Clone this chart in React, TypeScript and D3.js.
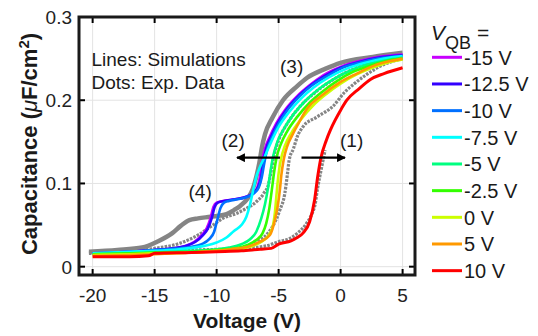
import React from "react";
import * as d3 from "d3";

type P = [number, number];

const X_TICKS = [-20, -15, -10, -5, 0, 5];
const Y_TICKS = [0, 0.1, 0.2, 0.3];
const Y_TICK_LABELS = ["0", "0.1", "0.2", "0.3"];

const SERIES_NAMES = ["-15 V", "-12.5 V", "-10 V", "-7.5 V", "-5 V", "-2.5 V", "0 V", "5 V", "10 V"];
const SERIES_COLORS = ["#c800ff", "#3300ff", "#0070ff", "#00ffff", "#00ff80", "#33ff00", "#ccff00", "#ff9900", "#ff0000"];

const simM15: P[] = [[-20,0.016],[-17,0.018],[-15,0.02],[-13.5,0.022],[-12.5,0.025],[-11.8,0.03],[-11.2,0.038],[-10.8,0.046],[-10.5,0.058],[-10.25,0.072],[-10.0,0.077],[-9.5,0.079],[-8.5,0.081],[-7.6,0.084],[-7.0,0.089],[-6.7,0.096],[-6.5,0.108],[-6.35,0.125],[-6.1,0.142],[-5.75,0.155],[-5.2,0.172],[-4.5,0.188],[-3.5,0.205],[-2.5,0.218],[-1.4,0.23],[0,0.24],[1.5,0.247],[3,0.252],[5,0.255]];
const simM12p5: P[] = [[-20,0.016],[-17,0.018],[-15,0.02],[-13.5,0.022],[-12.5,0.025],[-11.7,0.03],[-11.1,0.038],[-10.7,0.046],[-10.4,0.058],[-10.15,0.072],[-9.9,0.077],[-9.4,0.079],[-8.5,0.081],[-7.6,0.084],[-7.0,0.089],[-6.65,0.096],[-6.4,0.108],[-6.25,0.125],[-6.0,0.142],[-5.65,0.155],[-5.1,0.172],[-4.4,0.188],[-3.4,0.205],[-2.4,0.218],[-1.3,0.229],[0,0.239],[1.5,0.246],[3,0.251],[5,0.254]];
const simM10: P[] = [[-20,0.016],[-17,0.018],[-15,0.02],[-13,0.022],[-12,0.024],[-11.2,0.027],[-10.6,0.033],[-10.2,0.042],[-9.95,0.056],[-9.7,0.07],[-9.4,0.077],[-9,0.079],[-8.3,0.081],[-7.5,0.084],[-7.0,0.088],[-6.6,0.095],[-6.35,0.108],[-6.15,0.125],[-5.9,0.142],[-5.55,0.155],[-5.0,0.172],[-4.3,0.188],[-3.3,0.205],[-2.3,0.218],[-1.2,0.228],[0,0.238],[1.5,0.245],[3,0.25],[5,0.253]];
const simM7p5: P[] = [[-20,0.016],[-17,0.018],[-15,0.019],[-13,0.021],[-11,0.025],[-10,0.029],[-9.2,0.035],[-8.6,0.043],[-8.0,0.05],[-7.6,0.06],[-7.3,0.075],[-7.05,0.092],[-6.8,0.108],[-6.5,0.12],[-6.1,0.133],[-5.6,0.15],[-5.0,0.168],[-4.2,0.185],[-3.2,0.202],[-2.2,0.215],[-1.0,0.227],[0.5,0.238],[2,0.245],[3.5,0.25],[5,0.253]];
const simM5: P[] = [[-20,0.015],[-17,0.016],[-15,0.017],[-12,0.019],[-10,0.021],[-9,0.023],[-8,0.027],[-7.3,0.033],[-6.8,0.042],[-6.4,0.058],[-6.1,0.075],[-5.85,0.095],[-5.65,0.115],[-5.45,0.132],[-5.1,0.15],[-4.6,0.165],[-3.8,0.183],[-2.8,0.2],[-1.8,0.213],[-0.5,0.226],[1,0.237],[2.5,0.244],[4,0.249],[5,0.251]];
const simM2p5: P[] = [[-20,0.015],[-17,0.016],[-15,0.017],[-12,0.018],[-10,0.02],[-8.5,0.022],[-7.5,0.026],[-6.8,0.032],[-6.3,0.04],[-6.0,0.052],[-5.75,0.07],[-5.55,0.092],[-5.35,0.115],[-5.15,0.132],[-4.8,0.148],[-4.3,0.163],[-3.5,0.18],[-2.5,0.197],[-1.5,0.21],[-0.3,0.223],[1,0.234],[2.5,0.242],[4,0.248],[5,0.25]];
const sim0: P[] = [[-20,0.014],[-17,0.015],[-15,0.016],[-12,0.017],[-10,0.019],[-8.5,0.021],[-7.3,0.024],[-6.5,0.029],[-5.9,0.036],[-5.5,0.047],[-5.3,0.065],[-5.15,0.09],[-5.0,0.112],[-4.8,0.13],[-4.5,0.145],[-4.0,0.16],[-3.2,0.177],[-2.2,0.194],[-1.2,0.207],[0,0.22],[1.3,0.231],[2.7,0.24],[4,0.246],[5,0.249]];
const sim5: P[] = [[-20,0.013],[-17,0.014],[-15,0.015],[-12,0.017],[-10,0.019],[-8.9,0.021],[-7.5,0.024],[-6.5,0.03],[-5.7,0.038],[-5.3,0.056],[-5.05,0.075],[-4.9,0.092],[-4.78,0.11],[-4.6,0.128],[-4.3,0.145],[-3.9,0.158],[-3.4,0.172],[-2.7,0.19],[-1.5,0.206],[0,0.222],[1.3,0.232],[2.6,0.241],[4,0.247],[5,0.25]];
const sim10: P[] = [[-20,0.012],[-17,0.012],[-15.5,0.013],[-15,0.016],[-12,0.017],[-10,0.018],[-8,0.019],[-6.5,0.021],[-5.6,0.022],[-5.0,0.027],[-4.0,0.031],[-3.5,0.035],[-3.0,0.041],[-2.5,0.054],[-2.1,0.08],[-1.85,0.108],[-1.6,0.13],[-1.15,0.152],[-0.8,0.165],[0,0.188],[0.5,0.2],[1.5,0.214],[2.4,0.225],[3.5,0.232],[5,0.239]];

const SIM_DATA: P[][] = [simM15, simM12p5, simM10, simM7p5, simM5, simM2p5, sim0, sim5, sim10];

const expHump: P[] = [[-20.3,0.018],[-18,0.02],[-16,0.023],[-14.8,0.03],[-13.6,0.04],[-12.9,0.049],[-12.2,0.056],[-11.5,0.058],[-10.5,0.06],[-9.2,0.063],[-8.6,0.068],[-8.1,0.073],[-7.5,0.082],[-7.07,0.094],[-6.8,0.108],[-6.55,0.125],[-6.35,0.143],[-6.1,0.159],[-5.5,0.179],[-4.65,0.2],[-3.5,0.217],[-2.7,0.227],[-1.2,0.238],[0,0.245],[2.6,0.252],[5,0.257]];
const expLow: P[] = [[-20.3,0.017],[-17,0.019],[-15,0.022],[-13,0.028],[-11.5,0.038],[-10.3,0.05],[-9.5,0.058],[-8.4,0.064],[-7.6,0.07],[-6.8,0.078],[-6.2,0.088],[-5.8,0.1],[-5.6,0.115],[-5.35,0.135],[-5.0,0.152],[-4.3,0.172],[-3.3,0.192],[-2,0.21],[0,0.23],[2.5,0.245],[5,0.253]];
const expRight: P[] = [[-7,0.03],[-6,0.038],[-5.5,0.048],[-4.9,0.068],[-4.5,0.088],[-4.3,0.11],[-4.15,0.128],[-3.8,0.142],[-3.5,0.156],[-3.04,0.168],[-1.9,0.18],[-0.6,0.193],[0.35,0.21],[1.2,0.221],[2.1,0.231],[3.5,0.243],[5,0.25]];
const expRed: P[] = [[-20.3,0.016],[-16,0.018],[-12,0.02],[-8,0.022],[-6,0.025],[-5,0.03],[-4.1,0.034],[-3.5,0.04],[-2.75,0.052],[-2.3,0.064],[-2.07,0.074],[-1.85,0.095],[-1.55,0.118],[-1.25,0.14]];

const EXP_DATA: P[][] = [expLow, expRight, expRed, expHump];

const W = 538;
const H = 336;

export default function App() {
  const left = 79, right = 415, top = 17, bottom = 275;
  const x = d3.scaleLinear().domain([-21.1, 6]).range([left, right]);
  const y = d3.scaleLinear().domain([-0.01, 0.3]).range([bottom, top]);
  const line = d3.line<P>().x(d => x(d[0])).y(d => y(d[1])).curve(d3.curveMonotoneX);
  const font = "'Liberation Sans', Arial, Helvetica, sans-serif";
  const legendY = d3.range(SERIES_NAMES.length).map(i => 57.3 + i * 26.67);

  return (
    <svg width={W} height={H} style={{ position: "fixed", left: 0, top: 0, background: "#fff" }} fontFamily={font}>
      <defs>
        <clipPath id="plotclip">
          <rect x={left} y={top} width={right - left} height={bottom - top} />
        </clipPath>
        <marker id="ah" viewBox="0 0 10 10" refX="9" refY="5" markerWidth="4.5" markerHeight="4" orient="auto">
          <path d="M0,0 L10,5 L0,10 z" fill="#000" />
        </marker>
      </defs>
      <rect x={0} y={0} width={W} height={H} fill="#fff" />
      {X_TICKS.map(t => (
        <line key={"gx" + t} x1={x(t)} x2={x(t)} y1={top} y2={bottom} stroke="#e3e3e3" strokeWidth={1} />
      ))}
      {Y_TICKS.map(t => (
        <line key={"gy" + t} x1={left} x2={right} y1={y(t)} y2={y(t)} stroke="#e3e3e3" strokeWidth={1} />
      ))}
      <g clipPath="url(#plotclip)">
        {EXP_DATA.map((d, i) => (
          <path key={"e" + i} d={line(d) || ""} fill="none" stroke="#858585" strokeWidth={i === 3 ? 4.5 : 3.2} strokeDasharray={i === 3 ? "none" : "2.6 1.2"} />
        ))}
        {SIM_DATA.map((d, i) => (
          <path key={"s" + i} d={line(d) || ""} fill="none" stroke={SERIES_COLORS[i]} strokeWidth={i === 8 ? 3 : 2.6} strokeLinejoin="round" />
        ))}
      </g>
      {X_TICKS.map(t => (
        <g key={"tx" + t}>
          <line x1={x(t)} x2={x(t)} y1={bottom} y2={bottom - 6} stroke="#000" strokeWidth={2} />
          <line x1={x(t)} x2={x(t)} y1={top} y2={top + 6} stroke="#000" strokeWidth={2} />
          <text x={x(t)} y={301.5} fontSize={19} textAnchor="middle" fill="#222">{t}</text>
        </g>
      ))}
      {Y_TICKS.map((t, i) => (
        <g key={"ty" + t}>
          <line x1={left} x2={left + 6} y1={y(t)} y2={y(t)} stroke="#000" strokeWidth={2} />
          <line x1={right} x2={right - 6} y1={y(t)} y2={y(t)} stroke="#000" strokeWidth={2} />
          <text x={72} y={y(t)} dy="0.36em" fontSize={19} textAnchor="end" fill="#222">{Y_TICK_LABELS[i]}</text>
        </g>
      ))}
      <rect x={left} y={top} width={right - left} height={bottom - top} fill="none" stroke="#1a1a1a" strokeWidth={3} />
      <text x={91.5} y={65.5} fontSize={19} fill="#1a1a1a">Lines: Simulations</text>
      <text x={91.5} y={89} fontSize={19} fill="#1a1a1a">Dots: Exp. Data</text>
      <text x={280} y={73} fontSize={19} fill="#1a1a1a">(3)</text>
      <text x={221.5} y={147} fontSize={19} fill="#1a1a1a">(2)</text>
      <text x={340} y={147} fontSize={19} fill="#1a1a1a">(1)</text>
      <text x={188.5} y={198} fontSize={19} fill="#1a1a1a">(4)</text>
      <line x1={280} y1={157.7} x2={237} y2={157.7} stroke="#000" strokeWidth={2.2} markerEnd="url(#ah)" />
      <line x1={301.5} y1={157.7} x2={345} y2={157.7} stroke="#000" strokeWidth={2.2} markerEnd="url(#ah)" />
      <text x={247} y={328} fontSize={21} fontWeight="bold" textAnchor="middle" fill="#1a1a1a">Voltage (V)</text>
      <text transform="translate(37,144) rotate(-90)" fontSize={22} fontWeight="bold" textAnchor="middle" fill="#1a1a1a">
        Capacitance (<tspan fontStyle="italic" fontWeight="normal">μ</tspan>F/cm<tspan baselineShift="super" fontSize={15}>2</tspan>)
      </text>
      <text x={431} y={40} fontSize={21} fill="#1a1a1a">
        <tspan fontStyle="italic">V</tspan>
        <tspan dy={9} fontSize={18}>QB</tspan>
        <tspan dy={-9} dx={6}>=</tspan>
      </text>
      {SERIES_NAMES.map((n, i) => (
        <g key={"lg" + i}>
          <line x1={432} x2={462} y1={legendY[i]} y2={legendY[i]} stroke={SERIES_COLORS[i]} strokeWidth={3} />
          <text x={464} y={legendY[i]} dy="0.36em" fontSize={20} fill="#1a1a1a">{n}</text>
        </g>
      ))}
    </svg>
  );
}
